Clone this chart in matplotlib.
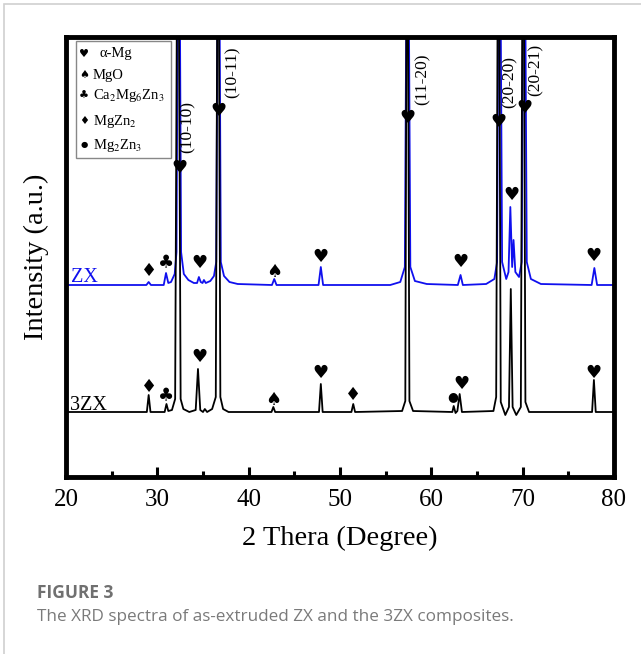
import matplotlib
matplotlib.use("Agg")
import matplotlib.pyplot as plt
from matplotlib.patches import Rectangle

plt.rcParams['font.family'] = ['Liberation Serif', 'DejaVu Sans']
plt.rcParams['mathtext.fontset'] = 'stix'

# ZX trace (blue), vertices
zx_theta = [20, 28.8, 29.05, 29.3, 30.7, 30.95, 31.2, 31.5, 31.9, 32.1, 32.35, 32.6,
            32.9, 33.4, 34.0, 34.35, 34.55, 34.75, 34.95, 35.1, 35.3, 35.8, 36.2, 36.45,
            36.7, 36.95, 37.3, 37.9, 38.8, 42.55, 42.8, 43.05, 47.65, 47.9, 48.15, 55.5,
            56.6, 57.1, 57.4, 57.7, 58.2, 59.5, 62.9, 63.2, 63.45, 66.0, 66.9, 67.2,
            67.45, 67.75, 68.2, 68.45, 68.65, 68.85, 69.0, 69.2, 69.6, 69.9, 70.15, 70.45,
            70.9, 72.0, 77.55, 77.85, 78.15, 80]
zx_int = [192, 192, 195, 192, 192, 204, 194, 195, 203, 225, 700, 225,
          203, 197, 194, 194, 200, 195, 194, 197, 194, 196, 201, 215,
          700, 215, 201, 195, 193, 192, 198, 192, 192, 210, 192, 192,
          195, 210, 700, 210, 196, 193, 192, 202, 192, 193, 198, 215,
          700, 215, 198, 205, 270, 210, 237, 205, 200, 215, 700, 215,
          198, 193, 192, 209, 192, 192]

# 3ZX trace (black)
tzx_theta = [20, 28.85, 29.05, 29.25, 30.8, 31.0, 31.2, 31.6, 31.95, 32.25, 32.55, 32.85,
             33.5, 34.2, 34.45, 34.7, 35.0, 35.2, 35.45, 36.0, 36.4, 36.65, 36.9, 37.2,
             37.8, 42.5, 42.7, 42.9, 47.7, 47.9, 48.1, 51.25, 51.45, 51.65, 56.8, 57.15,
             57.35, 57.6, 58.0, 62.3, 62.45, 62.65, 62.85, 63.1, 63.35, 66.8, 67.1, 67.35,
             67.6, 68.1, 68.5, 68.7, 68.9, 69.3, 69.8, 70.05, 70.3, 70.7, 77.6, 77.8,
             78.0, 80]
tzx_int = [65, 65, 82, 65, 65, 73, 66, 67, 78, 700, 78, 68,
           65, 67, 108, 67, 65, 68, 65, 68, 80, 700, 80, 68,
           65, 65, 70, 65, 65, 93, 65, 65, 73, 65, 66, 76,
           700, 76, 66, 65, 71, 64, 66, 83, 65, 66, 80, 700,
           75, 62, 70, 188, 70, 62, 70, 700, 75, 65, 65, 97,
           65, 65]

# phase markers: symbol, 2theta, height
zx_sym = ['♦', '♣', '♥', '♠', '♥', '♥', '♥']
zx_sym_x = [29.1, 30.95, 34.6, 42.8, 47.9, 63.2, 77.8]
zx_sym_y = [206, 214, 214, 205, 220, 215, 221]

top_sym_x = [32.4, 36.65, 57.4, 67.4, 70.15, 68.8]
top_sym_y = [309, 366, 359, 355, 369, 282]

tzx_sym = ['♦', '♣', '♥', '♠', '♥', '♦', '●', '♥', '♥']
tzx_sym_x = [29.1, 31.0, 34.6, 42.7, 47.9, 51.4, 62.3, 63.35, 77.8]
tzx_sym_y = [90, 81, 120, 77, 104, 82, 80, 93, 104]

planes = ['(10-10)', '(10-11)', '(11-20)', '(20-20)', '(20-21)']
plane_x = [33.36, 38.29, 59.09, 68.6, 71.4]
plane_y = [350, 405, 398, 395, 407]

legend_sym = ['♥', '♠', '♣', '♦', '●']
legend_lab = ['α-Mg', 'MgO', r'Ca$_2$Mg$_6$Zn$_3$', r'MgZn$_2$', r'Mg$_2$Zn$_3$']

W, H = 641, 654
fig = plt.figure(figsize=(W / 100, H / 100), dpi=100)


def px(x, y):
    return x / W, 1 - y / H


# light frame around the figure panel
fig.patches.append(Rectangle(px(4, 700), 700 / W, 696 / H, transform=fig.transFigure,
                             fill=False, edgecolor='#d0d0d0', lw=1.2))

ax = fig.add_axes([66 / W, 1 - 477 / H, 548 / W, 440 / H])
ax.plot(zx_theta, zx_int, color='#1010ee', lw=1.3)
ax.plot(tzx_theta, tzx_int, color='black', lw=1.3)
ax.set_xlim(20, 80)
ax.set_ylim(0, 440)

for s, x, y in zip(zx_sym, zx_sym_x, zx_sym_y):
    ax.text(x, y, s, ha='center', va='center', fontsize=13, family='DejaVu Sans')
for x, y in zip(top_sym_x, top_sym_y):
    ax.text(x, y, '♥', ha='center', va='center', fontsize=13, family='DejaVu Sans')
for s, x, y in zip(tzx_sym, tzx_sym_x, tzx_sym_y):
    fs = 9 if s == '●' else 13
    ax.text(x, y, s, ha='center', va='center', fontsize=fs, family='DejaVu Sans')
for t, x, y in zip(planes, plane_x, plane_y):
    ax.text(x, y, t, rotation=90, ha='center', va='center', fontsize=12.5)

ax.text(20.6, 195, 'ZX', color='#1010ee', fontsize=14.5, va='baseline')
ax.text(20.45, 67, '3ZX', color='black', fontsize=14.5, va='baseline')

for sp in ax.spines.values():
    sp.set_linewidth(3.5)
ax.set_xticks(range(20, 81, 10))
ax.set_xticks(range(25, 80, 10), minor=True)
ax.set_yticks([])
ax.tick_params(axis='x', which='major', direction='in', length=7, width=2.2,
               labelsize=18, pad=9)
ax.tick_params(axis='x', which='minor', direction='in', length=4, width=2.2)
ax.set_xlabel('2 Thera (Degree)', fontsize=20.5, labelpad=10)
ax.set_ylabel('Intensity (a.u.)', fontsize=20.5, labelpad=12)

# hand-drawn legend box
fig.patches.append(Rectangle(px(76, 158), 95 / W, 117 / H, transform=fig.transFigure,
                             fill=False, edgecolor='#888888', lw=1))
leg_y = [54, 75, 96, 121, 145]
for s, lab, y in zip(legend_sym, legend_lab, leg_y):
    fig.text(*px(84, y), s, ha='center', va='center', fontsize=8 if s != '●' else 6,
             family='DejaVu Sans')
    fig.text(*px(99 if lab == 'α-Mg' else 93, y), lab, ha='left', va='center', fontsize=10.5)

fig.text(*px(37, 593), 'FIGURE 3', family='Open Sans', fontweight='bold', fontsize=12.5,
         color='#707070', va='center')
fig.text(*px(37, 617), 'The XRD spectra of as-extruded ZX and the 3ZX composites.',
         family='Open Sans', fontsize=12.3, color='#7a7a7a', va='center')

fig.savefig('out.png', dpi=100)
